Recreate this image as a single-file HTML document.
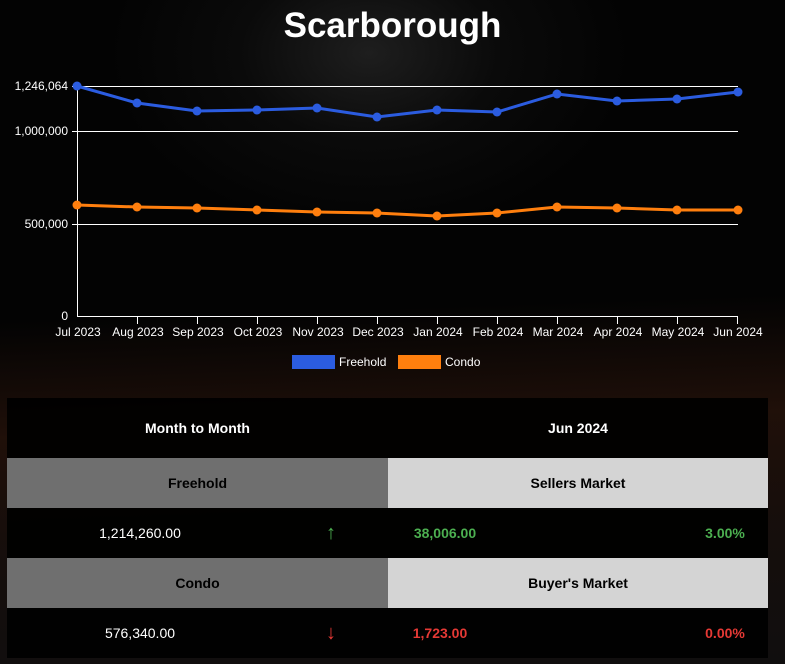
<!DOCTYPE html>
<html><head><style>
body{margin:0;width:785px;height:664px;overflow:hidden;background:#050505;font-family:"Liberation Sans",sans-serif;position:relative}
.bg{position:absolute;inset:0;background:radial-gradient(ellipse 260px 180px at 47% 8%,#1e1e1e 0,#0a0a0a 50%,#030303 100%),#030303}
.bg2{position:absolute;left:0;right:0;top:230px;height:434px;background:linear-gradient(178deg,rgba(0,0,0,0) 0,rgba(0,0,0,0) 20%,rgba(60,28,15,.5) 45%,rgba(40,25,20,.5) 70%,rgba(25,22,22,.6) 100%)}
h1{position:absolute;top:6px;left:0;width:785px;text-align:center;margin:0;color:#fff;font-size:35px;font-weight:bold}
svg{position:absolute;left:0;top:0}
.t{position:absolute;left:7px;top:398px;width:761px;height:260px;background:rgba(0,0,0,.92)}
.c{position:absolute;display:flex;align-items:center;justify-content:center;font-weight:bold;font-size:14px}
</style></head><body>
<div class="bg"></div><div class="bg2"></div>
<h1>Scarborough</h1>
<svg width="785" height="400" font-family="Liberation Sans" font-size="12" fill="#fff">
<g stroke="#fff" stroke-width="1">
<line x1="77" y1="86.5" x2="738" y2="86.5"/><line x1="77" y1="131.5" x2="738" y2="131.5"/><line x1="77" y1="224.5" x2="738" y2="224.5"/>
<line x1="77" y1="316.5" x2="738" y2="316.5"/><line x1="77.5" y1="86" x2="77.5" y2="316"/>
<line x1="72" y1="86.5" x2="77" y2="86.5"/><line x1="72" y1="131.5" x2="77" y2="131.5"/><line x1="72" y1="224.5" x2="77" y2="224.5"/>
<line x1="137.5" y1="316" x2="137.5" y2="324"/><line x1="197.5" y1="316" x2="197.5" y2="324"/><line x1="257.5" y1="316" x2="257.5" y2="324"/><line x1="317.5" y1="316" x2="317.5" y2="324"/><line x1="377.5" y1="316" x2="377.5" y2="324"/><line x1="437.5" y1="316" x2="437.5" y2="324"/><line x1="497.5" y1="316" x2="497.5" y2="324"/><line x1="557.5" y1="316" x2="557.5" y2="324"/><line x1="617.5" y1="316" x2="617.5" y2="324"/><line x1="677.5" y1="316" x2="677.5" y2="324"/><line x1="737.5" y1="316" x2="737.5" y2="324"/>
</g>
<g text-anchor="end"><text x="68" y="90">1,246,064</text><text x="68" y="135">1,000,000</text><text x="68" y="228">500,000</text><text x="68" y="320">0</text></g>
<g text-anchor="middle">
<text x="78" y="336">Jul 2023</text><text x="138" y="336">Aug 2023</text><text x="198" y="336">Sep 2023</text><text x="258" y="336">Oct 2023</text><text x="318" y="336">Nov 2023</text><text x="378" y="336">Dec 2023</text><text x="438" y="336">Jan 2024</text><text x="498" y="336">Feb 2024</text><text x="558" y="336">Mar 2024</text><text x="618" y="336">Apr 2024</text><text x="678" y="336">May 2024</text><text x="738" y="336">Jun 2024</text>
</g>
<polyline fill="none" stroke="#2b5ce0" stroke-width="3" points="77,86 137,103 197,111 257,110 317,108 377,117 437,110 497,112 557,94 617,101 677,99 738,92"/>
<g fill="#2b5ce0"><circle cx="77" cy="86" r="4.5"/><circle cx="137" cy="103" r="4.5"/><circle cx="197" cy="111" r="4.5"/><circle cx="257" cy="110" r="4.5"/><circle cx="317" cy="108" r="4.5"/><circle cx="377" cy="117" r="4.5"/><circle cx="437" cy="110" r="4.5"/><circle cx="497" cy="112" r="4.5"/><circle cx="557" cy="94" r="4.5"/><circle cx="617" cy="101" r="4.5"/><circle cx="677" cy="99" r="4.5"/><circle cx="738" cy="92" r="4.5"/></g>
<polyline fill="none" stroke="#ff7f0e" stroke-width="3" points="77,205 137,207 197,208 257,210 317,212 377,213 437,216 497,213 557,207 617,208 677,210 738,210"/>
<g fill="#ff7f0e"><circle cx="77" cy="205" r="4.5"/><circle cx="137" cy="207" r="4.5"/><circle cx="197" cy="208" r="4.5"/><circle cx="257" cy="210" r="4.5"/><circle cx="317" cy="212" r="4.5"/><circle cx="377" cy="213" r="4.5"/><circle cx="437" cy="216" r="4.5"/><circle cx="497" cy="213" r="4.5"/><circle cx="557" cy="207" r="4.5"/><circle cx="617" cy="208" r="4.5"/><circle cx="677" cy="210" r="4.5"/><circle cx="738" cy="210" r="4.5"/></g>
<rect x="292" y="355" width="43" height="14" fill="#2b5ce0"/><text x="339" y="366">Freehold</text>
<rect x="398" y="355" width="43" height="14" fill="#ff7f0e"/><text x="445" y="366">Condo</text>
</svg>
<div class="t"></div>
<div class="c" style="left:7px;top:398px;width:381px;height:60px;color:#fff">Month to Month</div>
<div class="c" style="left:388px;top:398px;width:380px;height:60px;color:#fff">Jun 2024</div>
<div class="c" style="left:7px;top:458px;width:381px;height:50px;background:#6f6f6f;color:#000">Freehold</div>
<div class="c" style="left:388px;top:458px;width:380px;height:50px;background:#d4d4d4;color:#000">Sellers Market</div>
<div class="c" style="left:80px;top:508px;width:120px;height:50px;color:#fff;font-weight:normal">1,214,260.00</div>
<div class="c" style="left:310px;top:508px;width:42px;height:50px;color:#4caf50;font-size:20px;font-weight:normal">↑</div>
<div class="c" style="left:400px;top:508px;width:90px;height:50px;color:#4caf50">38,006.00</div>
<div class="c" style="left:690px;top:508px;width:70px;height:50px;color:#4caf50">3.00%</div>
<div class="c" style="left:7px;top:558px;width:381px;height:50px;background:#6f6f6f;color:#000">Condo</div>
<div class="c" style="left:388px;top:558px;width:380px;height:50px;background:#d4d4d4;color:#000">Buyer's Market</div>
<div class="c" style="left:80px;top:608px;width:120px;height:50px;color:#fff;font-weight:normal">576,340.00</div>
<div class="c" style="left:310px;top:608px;width:42px;height:50px;color:#e53935;font-size:20px;font-weight:normal">↓</div>
<div class="c" style="left:395px;top:608px;width:90px;height:50px;color:#e53935">1,723.00</div>
<div class="c" style="left:690px;top:608px;width:70px;height:50px;color:#e53935">0.00%</div>
</body></html>
